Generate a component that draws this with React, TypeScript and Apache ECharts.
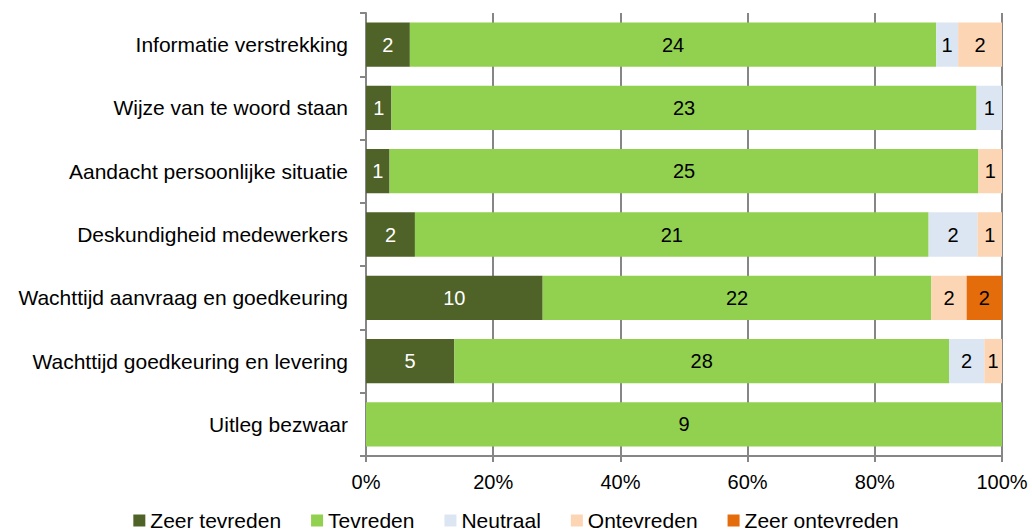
import React, { useEffect, useRef } from "react";
import * as echarts from "echarts";

const categories = [
  "Informatie verstrekking",
  "Wijze van te woord staan",
  "Aandacht persoonlijke situatie",
  "Deskundigheid medewerkers",
  "Wachttijd aanvraag en goedkeuring",
  "Wachttijd goedkeuring en levering",
  "Uitleg bezwaar",
];

const seriesNames = ["Zeer tevreden", "Tevreden", "Neutraal", "Ontevreden", "Zeer ontevreden"];
const zeerTevreden = [2, 1, 1, 2, 10, 5, 0];
const tevreden = [24, 23, 25, 21, 22, 28, 9];
const neutraal = [1, 1, 0, 2, 0, 2, 0];
const ontevreden = [2, 0, 1, 1, 2, 1, 0];
const zeerOntevreden = [0, 0, 0, 0, 2, 0, 0];
const xTickLabels = ["0%", "20%", "40%", "60%", "80%", "100%"];

const colors = ["#4F6228", "#92D050", "#DCE6F2", "#FCD5B5", "#E46C0A"];
const labelColors = ["#ffffff", "#000000", "#000000", "#000000", "#000000"];

export default function App() {
  const ref = useRef<HTMLDivElement>(null);
  useEffect(() => {
    if (!ref.current) return;
    const chart = echarts.init(ref.current, null, { renderer: "svg" });
    const all = [zeerTevreden, tevreden, neutraal, ontevreden, zeerOntevreden];
    const totals = categories.map((_, i) => all.reduce((s, arr) => s + arr[i], 0));
    const font = "'Liberation Sans', Arial, sans-serif";
    const series = all.map((arr, si) => ({
      name: seriesNames[si],
      type: "bar",
      stack: "total",
      barCategoryGap: "30%",
      itemStyle: { color: colors[si] },
      label: {
        show: true,
        position: "inside",
        color: labelColors[si],
        fontSize: 20,
        fontFamily: font,
        formatter: (p: any) => (p.data.count ? String(p.data.count) : ""),
      },
      data: arr.map((v, i) => ({ value: (v / totals[i]) * 100, count: v })),
    }));
    chart.setOption({
      animation: false,
      textStyle: { fontFamily: font },
      grid: { left: 366, right: 30, top: 13, bottom: 76, containLabel: false },
      legend: {
        top: 505,
        left: "center",
        itemWidth: 12,
        itemHeight: 12,
        itemGap: 30,
        icon: "rect",
        textStyle: { fontSize: 21, color: "#000", fontFamily: font },
        data: seriesNames,
      },
      xAxis: {
        type: "value",
        min: 0,
        max: 100,
        interval: 20,
        axisLine: { show: true, lineStyle: { color: "#868686", width: 2 } },
        axisTick: { show: true, length: 6, lineStyle: { color: "#868686", width: 2 } },
        splitLine: { show: true, lineStyle: { color: "#868686", width: 2 } },
        axisLabel: {
          margin: 16,
          fontSize: 20,
          color: "#000",
          fontFamily: font,
          formatter: (v: number) => xTickLabels[Math.round(v / 20)] ?? "",
        },
      },
      yAxis: {
        type: "category",
        inverse: true,
        data: categories,
        axisLine: { show: true, lineStyle: { color: "#868686", width: 2 } },
        axisTick: { show: true, length: 6, lineStyle: { color: "#868686", width: 2 } },
        axisLabel: { margin: 18, fontSize: 21, color: "#000", fontFamily: font },
      },
      series,
    });
    return () => chart.dispose();
  }, []);
  return <div ref={ref} style={{ width: 1032, height: 532, position: "absolute", left: 0, top: 0 }} />;
}
